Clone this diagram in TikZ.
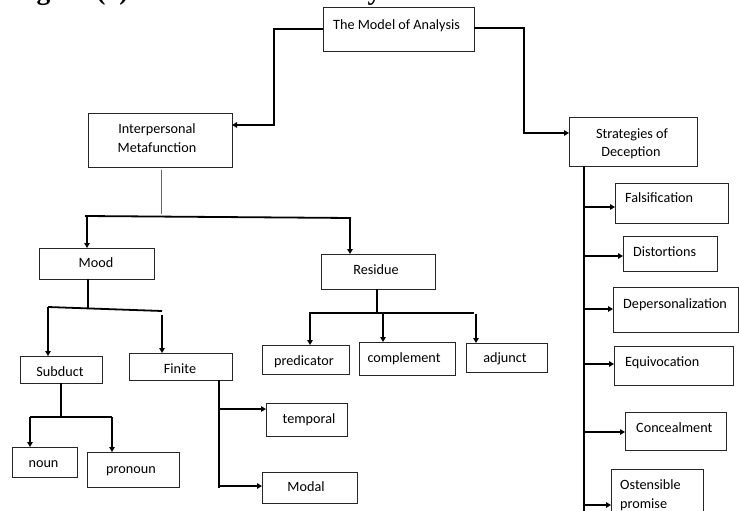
\documentclass[tikz,border=0pt]{standalone}
\usepackage{fontspec}
\setmainfont{Carlito}
\newfontfamily\headfont{Liberation Serif}
\usetikzlibrary{arrows.meta}
\tikzset{
  box/.style={draw=black!85, line width=0.9pt, inner sep=0pt, outer sep=0pt, anchor=north west},
  conn/.style={line width=1.8pt, black},
  arr/.style={conn, -{Triangle[length=5pt,width=5.5pt]}},
  thinconn/.style={line width=0.9pt, black!60},
  lbl/.style={font=\fontsize{14.2}{16}\selectfont, inner sep=0pt, text height=9.8pt, text depth=0.5pt},
  lblw/.style={lbl, anchor=west},
  head/.style={font=\headfont\bfseries\fontsize{27.5}{30}\selectfont, inner sep=0pt, anchor=base west}
}
\newcommand\mybox[5]{\node[box, minimum width={(#4-#2)*1pt}, minimum height={(#5-#3)*1pt}] (#1) at (#2,#3) {};}
\begin{document}
\begin{tikzpicture}[x=1pt,y=-1pt]
\useasboundingbox (0,0) rectangle (739,511);
\clip (0,0) rectangle (739,511);
\node[head] (title) at (12,-0.5) {Figure (1): The Model of Analysis};
% boxes
\mybox{top}{323}{7}{474}{51}
\mybox{inter}{88}{113}{232}{167}
\mybox{strat}{569}{117}{697}{166}
\mybox{mood}{39}{248}{154}{279}
\mybox{resid}{321}{254}{435}{289}
\mybox{subd}{20}{356}{102}{383}
\mybox{fin}{129}{353}{232}{380}
\mybox{noun}{12}{447}{77}{477}
\mybox{pron}{87}{452}{179}{487}
\mybox{temp}{266}{403}{347}{436}
\mybox{modal}{262}{472}{357}{503}
\mybox{pred}{262}{345}{349}{374}
\mybox{comp}{359}{342}{455}{375}
\mybox{adj}{466}{343}{547}{372}
\mybox{fals}{615}{183}{728}{223}
\mybox{dist}{623}{236}{717}{271}
\mybox{dep}{613}{287}{738}{332}
\mybox{equi}{614}{346}{733}{385}
\mybox{conc}{625}{412}{726}{450}
\mybox{ost}{611}{469}{703}{530}
% labels
\node[lblw] (ttop) at (333,25) {The Model of Analysis};
\node[lbl] (tint1) at (157,129) {Interpersonal};
\node[lbl] (tint2) at (157,148) {Metafunction};
\node[lbl] (tstr1) at (632,134) {Strategies of};
\node[lbl] (tstr2) at (631,152) {Deception};
\node[lbl] (tmood) at (96,263) {Mood};
\node[lbl] (tres) at (376,270) {Residue};
\node[lbl] (tsub) at (60,372) {Subduct};
\node[lbl] (tfin) at (180,369) {Finite};
\node[lbl] (tnoun) at (43.5,463) {noun};
\node[lbl] (tpron) at (131,469) {pronoun};
\node[lbl] (ttemp) at (309,419) {temporal};
\node[lbl] (tmodal) at (306,487) {Modal};
\node[lbl] (tpred) at (304,361) {predicator};
\node[lbl] (tcomp) at (404,358) {complement};
\node[lbl] (tadj) at (505,358) {adjunct};
\node[lblw] (tfals) at (625,198) {Falsification};
\node[lblw] (tdist) at (633,252) {Distortions};
\node[lblw] (tdep) at (623,304) {Depersonalization};
\node[lblw] (tequi) at (625,362) {Equivocation};
\node[lblw] (tconc) at (636,428) {Concealment};
\node[lblw] (tost1) at (620,485) {Ostensible};
\node[lblw] (tost2) at (620,504) {promise};
% top connectors
\coordinate (j1) at (274,29);
\coordinate (j2) at (274,125);
\draw[arr] (top.west) -- (j1) -- (j2) -- (j2 -| inter.east);
\coordinate (j3) at (524,28);
\coordinate (j4) at (524,133);
\draw[arr] (top.east |- j3) -- (j3) -- (j4) -- (j4 -| strat.west);
% interpersonal bus
\coordinate (g1) at (161,170);
\coordinate (g2) at (161,214);
\draw[thinconn] (g1) -- (g2);
\coordinate (b1) at (85,216);
\coordinate (b2) at (351,218);
\draw[conn] (b1) -- (b2);
\coordinate (a1) at (87,216);
\coordinate (a2) at (350,218);
\draw[arr] (a1) -- (a1 |- mood.north);
\draw[arr] (a2) -- (a2 |- resid.north);
% mood
\coordinate (m0) at (88,279);
\coordinate (m1) at (88,309);
\draw[conn] (m0) -- (m1);
\coordinate (m2) at (48,307);
\coordinate (m3) at (162,311);
\draw[conn] (m2) -- (m3);
\draw[arr] (m2) -- (m2 |- subd.north);
\coordinate (m4) at (162,315);
\draw[arr] (m4) -- (m4 |- fin.north);
% subduct
\coordinate (s0) at (61,383);
\coordinate (s1) at (61,417);
\draw[conn] (s0) -- (s1);
\coordinate (s2) at (30,417);
\coordinate (s3) at (112,417);
\draw[conn] (s2) -- (s3);
\draw[arr] (s2) -- (s2 |- noun.north);
\draw[arr] (s3) -- (s3 |- pron.north);
% finite
\coordinate (f0) at (219,380);
\coordinate (f1) at (219,488);
\draw[conn] (f0) -- (f1);
\coordinate (f2) at (218,409);
\coordinate (f3) at (218,486);
\draw[arr] (f2) -- (f2 -| temp.west);
\draw[arr] (f3) -- (f3 -| modal.west);
% residue
\coordinate (r0) at (377,289);
\coordinate (r1) at (377,313);
\draw[conn] (r0) -- (r1);
\coordinate (r2) at (309,313);
\coordinate (r3) at (474,313);
\draw[conn] (r2) -- (r3);
\coordinate (r4) at (310,313);
\coordinate (r5) at (383,313);
\coordinate (r6) at (476,314);
\draw[arr] (r4) -- (r4 |- pred.north);
\draw[arr] (r5) -- (r5 |- comp.north);
\draw[arr] (r6) -- (r6 |- adj.north);
% strategies
\coordinate (d0) at (584,166);
\coordinate (d1) at (584,515);
\draw[conn] (d0) -- (d1);
\coordinate (e1) at (583,207);
\coordinate (e2) at (583,256);
\coordinate (e3) at (583,309);
\coordinate (e4) at (583,364);
\coordinate (e5) at (583,432);
\coordinate (e6) at (583,505);
\draw[arr] (e1) -- (e1 -| fals.west);
\draw[arr] (e2) -- (e2 -| dist.west);
\draw[arr] (e3) -- (e3 -| dep.west);
\draw[arr] (e4) -- (e4 -| equi.west);
\draw[arr] (e5) -- (e5 -| conc.west);
\draw[arr] (e6) -- (e6 -| ost.west);
\end{tikzpicture}
\end{document}
